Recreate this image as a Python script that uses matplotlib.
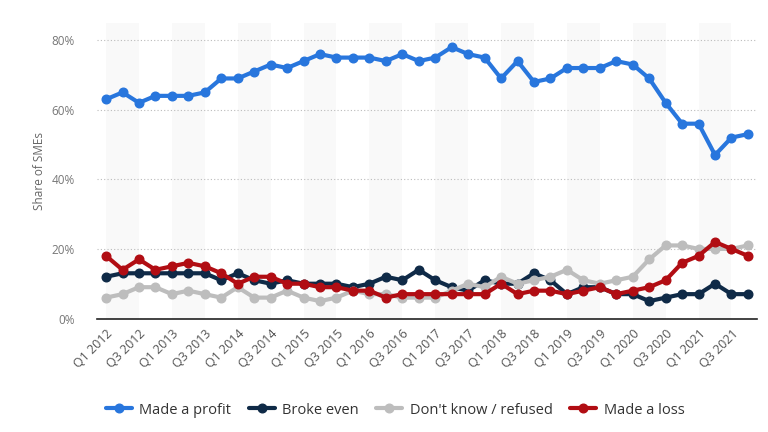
import matplotlib
matplotlib.use("Agg")
import matplotlib.pyplot as plt
import numpy as np

plt.rcParams['font.family'] = ['Open Sans', 'DejaVu Sans']

quarters = [f"Q{q} {y}" for y in range(2012, 2022) for q in range(1, 5)]

made_profit = [63, 65, 62, 64, 64, 64, 65, 69, 69, 71,
               73, 72, 74, 76, 75, 75, 75, 74, 76, 74,
               75, 78, 76, 75, 69, 74, 68, 69, 72, 72,
               72, 74, 73, 69, 62, 56, 56, 47, 52, 53]
broke_even = [12, 13, 13, 13, 13, 13, 13, 11, 13, 11,
              10, 11, 10, 10, 10, 9, 10, 12, 11, 14,
              11, 9, 8, 11, 10, 10, 13, 11, 7, 9,
              9, 7, 7, 5, 6, 7, 7, 10, 7, 7]
dont_know = [6, 7, 9, 9, 7, 8, 7, 6, 9, 6,
             6, 8, 6, 5, 6, 8, 7, 7, 6, 6,
             6, 8, 10, 9, 12, 10, 11, 12, 14, 11,
             10, 11, 12, 17, 21, 21, 20, 20, 20, 21]
made_loss = [18, 14, 17, 14, 15, 16, 15, 13, 10, 12,
             12, 10, 10, 9, 9, 8, 8, 6, 7, 7,
             7, 7, 7, 7, 10, 7, 8, 8, 7, 8,
             9, 7, 8, 9, 11, 16, 18, 22, 20, 18]

series = [
    ("Made a profit", made_profit, "#2876dd"),
    ("Broke even", broke_even, "#0f2a47"),
    ("Don't know / refused", dont_know, "#bdbdbd"),
    ("Made a loss", made_loss, "#b10d13"),
]

fig = plt.figure(figsize=(7.68, 4.32), dpi=100)
ax = fig.add_axes([97/768, 1 - 318.5/432, (757-97)/768, (318.5-22.8)/432])

x = np.arange(len(quarters))
for k in range(0, len(quarters), 4):
    ax.axvspan(k, k + 2, color="#f9f9f9", zorder=0, lw=0)

for name, vals, col in series:
    ax.plot(x, vals, color=col, lw=3, marker='o', ms=6.2, label=name, zorder=3,
            solid_joinstyle='round', solid_capstyle='round')

ax.set_xlim(-0.55, 39.55)
ax.set_ylim(0, 85)
ax.set_yticks([0, 20, 40, 60, 80])
ax.set_yticklabels([f"{v}%" for v in [0, 20, 40, 60, 80]])
ax.yaxis.grid(True, linestyle=(0, (1, 2)), color="#bbbbbb", lw=0.8)
ax.set_axisbelow(True)
ax.set_xticks(x[::2])
ax.set_xticklabels(quarters[::2], rotation=45, ha='right', rotation_mode='anchor')
ax.tick_params(axis='x', length=0, pad=6, labelsize=9, labelcolor="#555555")
ax.tick_params(axis='y', length=0, pad=16, labelsize=8.5, labelcolor="#777777")
for s in ['top', 'right', 'left']:
    ax.spines[s].set_visible(False)
ax.spines['bottom'].set_color("#222222")
ax.spines['bottom'].set_linewidth(1.2)
ax.set_ylabel("Share of SMEs", fontsize=8.5, color="#666666", labelpad=4)

leg = fig.legend(loc='center', bbox_to_anchor=(395/768, 1 - 410/432), ncol=4,
                 frameon=False, fontsize=10.5, handlelength=1.8, columnspacing=1.2,
                 handletextpad=0.5)
for t in leg.get_texts():
    t.set_color("#333333")

fig.savefig("out.png", dpi=100)
